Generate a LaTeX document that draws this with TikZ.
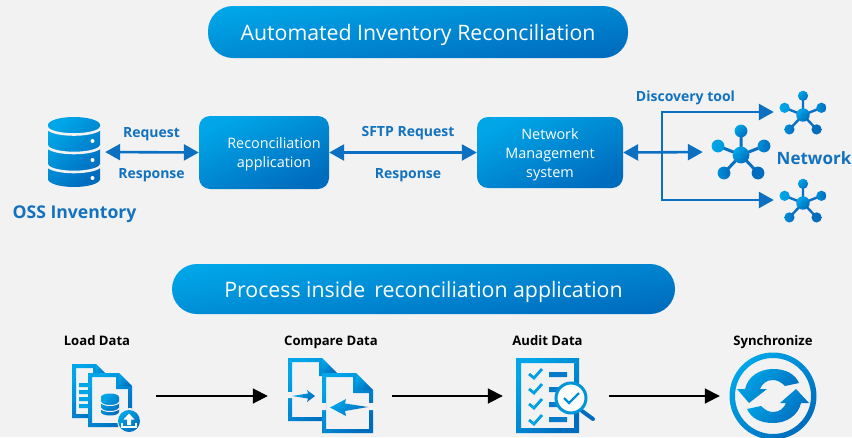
\documentclass[tikz,border=0pt]{standalone}
\usepackage{fontspec}
\setmainfont{Open Sans}
\usetikzlibrary{arrows.meta}
\definecolor{bgc}{HTML}{F2F2F2}
\definecolor{ca}{HTML}{00A6E8}
\definecolor{cb}{HTML}{006CBE}
\definecolor{lnc}{HTML}{0B6FC2}
\definecolor{txc}{HTML}{1272BF}
\tikzset{
  gradd/.style={left color=ca,right color=cb,shading angle=45,draw=none},
  gradv/.style={top color=ca,bottom color=cb,shading angle=#1,draw=none},
  banner/.style={gradv=8,rounded corners=25pt,minimum height=#1,text=white,font=\fontsize{21.3}{24}\selectfont,inner sep=0pt,text height=18pt,text depth=2pt},
  appbox/.style={gradv=25,rounded corners=11pt,inner sep=0pt},
  box text/.style={text=white,align=center,font=\fontsize{14.4}{19}\selectfont,inner sep=0pt},
  blue label/.style={text=txc,font=\bfseries\fontsize{14}{15}\selectfont,inner sep=0pt,anchor=base},
  big label/.style={text=txc,font=\bfseries\fontsize{17.6}{18}\selectfont,inner sep=0pt,anchor=base},
  step label/.style={text=black,font=\bfseries\fontsize{13.1}{14}\selectfont,inner sep=0pt,anchor=base},
  slot/.style={inner sep=0pt,minimum height=50pt},
  link/.style={draw=lnc,line width=2.6pt,-{Triangle[length=15pt,width=16pt]}},
  biglink/.style={draw=lnc,line width=2.6pt,{Triangle[length=15pt,width=16pt]}-{Triangle[length=15pt,width=16pt]}},
  flow/.style={draw=black,line width=1.8pt,-{Triangle[length=15pt,width=15pt]}},
}
\newcommand{\netic}[3]{% cx cy scale
  \begin{scope}[shift={(#1,#2)},scale=#3]
    \draw[line width=3pt*#3,draw=lnc] (0,0)--(0,-24) (0,0)--(-23,-9) (0,0)--(23,-9) (0,0)--(-17,18) (0,0)--(17,18);
    \shade[gradd] (0,-24) circle (6.4);
    \shade[left color=ca,right color=ca!80!cb] (-23,-9) circle (6.4);
    \shade[left color=ca!60!cb,right color=cb] (23,-9) circle (6.4);
    \shade[left color=ca!60!cb,right color=cb] (-17,18) circle (6.4);
    \shade[left color=cb,right color=cb] (17,18) circle (6.4);
    \shade[gradd] (0,0) circle (8.4);
  \end{scope}}
\newcommand{\docpath}[5]{% x0 y0 x1 y1 fold
  (#1,#2) -- ({#3-#5},#2) -- (#3,{#2+#5}) -- (#3,#4) -- (#1,#4) -- cycle}
\newcommand{\docic}[5]{% outlined document with a fold
  \fill[bgc] \docpath{#1}{#2}{#3}{#4}{#5};
  \shade[gradd,even odd rule] \docpath{#1}{#2}{#3}{#4}{#5}
     ({#1+4},{#2+4}) -- ({#3-#5-3},{#2+4}) -- ({#3-#5-3},{#2+#5+3}) -- ({#3-4},{#2+#5+3}) -- ({#3-4},{#4-4}) -- ({#1+4},{#4-4}) -- cycle;
  \shade[gradd] ({#3-#5},{#2}) -- (#3,{#2+#5}) -- ({#3-#5},{#2+#5}) -- cycle;}
\begin{document}
\begin{tikzpicture}[x=1pt,y=-1pt]
\path[use as bounding box,fill=bgc] (0,0) rectangle (852,437);

% banners
\node[banner=52pt,minimum width=420pt] (title) at (418,32) {Automated Inventory Reconciliation};
\node[banner=50pt,minimum width=503pt] (proc) at (423.5,289) {Process inside\, reconciliation application};

% boxes
\node[appbox,minimum width=130pt,minimum height=73pt] (recon) at (264,152.5) {};
\node[box text] (recontext) at (274,154.5) {Reconciliation\\application};
\node[appbox,minimum width=146pt,minimum height=71pt] (nms) at (550,152.5) {};
\node[box text] (nmstext) at (550,154.5) {Network\\Management\\system};

% database icon
\shade[gradd] (48,125) -- (48,179) arc[start angle=180,end angle=0,x radius=26,y radius=8] -- (100,125) arc[start angle=0,end angle=-180,x radius=26,y radius=8] -- cycle;
\draw[bgc,line width=2.6pt] (47,127) arc[start angle=180,end angle=0,x radius=27,y radius=7.5]
  (47,145.5) arc[start angle=180,end angle=0,x radius=27,y radius=7.5]
  (47,164.5) arc[start angle=180,end angle=0,x radius=27,y radius=7.5];
\fill[white] (92.5,141) circle (2) (92.5,160) circle (2) (92.5,178) circle (2);
\node[slot,minimum width=52pt,minimum height=70pt] (db) at (74,152) {};

% network icons
\netic{741}{155}{1}
\netic{803}{115}{0.8}
\netic{803}{203}{0.8}
\node[slot,minimum width=58pt] (netmid) at (741,152) {};
\node[slot,minimum width=10pt,minimum height=10pt] (nettop) at (779,112) {};
\node[slot,minimum width=10pt,minimum height=10pt] (netbot) at (779,200) {};
\coordinate (branch) at (662,152);

% connectors
\draw[biglink,shorten <=5pt] (db.east) -- (recon.west);
\draw[biglink] (recon.east) -- (nms.west);
\draw[biglink,shorten >=9pt] (nms.east) -- (netmid.west);
\draw[link] (branch) -- (branch |- nettop) -- (nettop.west);
\draw[link] (branch) -- (branch |- netbot) -- (netbot.west);

% labels
\node[blue label] (req) at (151.5,137) {Request};
\node[blue label] (resp) at (151.5,178) {Response};
\node[big label] (oss) at (74.5,218) {OSS Inventory};
\node[blue label] (sftp) at (408,136) {SFTP Request};
\node[blue label] (resp2) at (408,178) {Response};
\node[blue label] (disc) at (685.5,101) {Discovery tool};
\node[text=txc,font=\bfseries\fontsize{17}{18}\selectfont,inner sep=0pt,anchor=base east] (net) at (851.5,164) {Network};

\node[step label] (l1) at (97,345) {Load Data};
\node[step label] (l2) at (331,345) {Compare Data};
\node[step label] (l3) at (547.5,345) {Audit Data};
\node[step label] (l4) at (773,345) {Synchronize};

% load icon
\docic{72}{364}{107}{418}{11}
\fill[ca] (79,383) rectangle (88,387) (79,390) rectangle (88,394) (79,397) rectangle (88,401) (79,404) rectangle (88,408);
\docic{88}{373}{132}{427}{13}
\shade[gradd] (101,397) -- (101,412) arc[start angle=180,end angle=0,x radius=9,y radius=3.5] -- (119,397) arc[start angle=0,end angle=-180,x radius=9,y radius=3.5] -- cycle;
\draw[bgc,line width=1pt] (101,402) arc[start angle=180,end angle=0,x radius=9,y radius=3.5] (101,408) arc[start angle=180,end angle=0,x radius=9,y radius=3.5];
\fill[bgc] (130,421) circle (13);
\shade[gradd] (129,421) circle (11);
\fill[white] (129,413.5) -- (134.5,419.5) -- (131,419.5) -- (131,425) -- (127,425) -- (127,419.5) -- (123.5,419.5) -- cycle;
\draw[white,line width=1.1pt] (122,423) -- (122,427) -- (136,427) -- (136,423);
\node[slot,minimum width=70pt] (load) at (106,396) {};

% compare icon
\docic{288}{358}{337}{421}{15}
\docic{322}{373}{373}{433}{17}
\fill[bgc] (286,392) rectangle (293,398) (319,403) rectangle (326,410) (366,403) rectangle (376,410);
\shade[gradd] (292,396) -- (308,393.5) -- (307,390) -- (315,396) -- (307,402) -- (308,398.5) -- cycle;
\shade[gradd] (368,407) -- (345,403.5) -- (346,399) -- (330,407.5) -- (346,416) -- (345,411) -- cycle;
\node[slot,minimum width=85pt] (compare) at (330.5,396) {};

% audit icon
\shade[gradd,even odd rule] (516,358) rectangle (579,433) (521,363) rectangle (574,428);
\foreach \yy in {374,389,404,420}{
  \draw[ca!90!cb,line width=2.8pt] (529,\yy) -- (534,{\yy+4}) -- (542,{\yy-5});
}
\fill[lnc!80!ca] (549,372) rectangle (567,377) (549,387) rectangle (560,392) (549,402) rectangle (560,407) (549,417) rectangle (567,422);
\draw[cb,line width=4pt,line cap=round] (582,411) -- (593,419);
\fill[white] (571,398) circle (15);
\draw[ca!70!cb,line width=3pt] (571,398) circle (15);
\draw[ca!60!cb,line width=2.2pt] (564,398) -- (569,403) -- (579,393);
\node[slot,minimum width=78pt] (audit) at (555,396) {};

% sync icon
\shade[gradd,even odd rule] (773,396) circle (43.5) (773,396) circle (38);
\shade[gradd] (745,389) .. controls (748,376) and (760,369) .. (773,369) .. controls (786,369) and (795,374) .. (799,383) -- (785,386) .. controls (781,382) and (777,380) .. (773,380) .. controls (766,380) and (762,384) .. (760,389) -- (767,389) -- (749,403) -- (737,389) -- cycle;
\shade[gradd] (801,403) .. controls (798,416) and (786,423) .. (773,423) .. controls (760,423) and (751,418) .. (747,409) -- (761,406) .. controls (765,410) and (769,412) .. (773,412) .. controls (780,412) and (784,408) .. (786,403) -- (780,403) -- (796,389) -- (809,403) -- cycle;
\node[slot,minimum width=86pt] (sync) at (773,396) {};

% flow arrows
\draw[flow,shorten <=15pt,shorten >=20pt] (load.east) -- (compare.west);
\draw[flow,shorten <=19pt,shorten >=13pt] (compare.east) -- (audit.west);
\draw[flow,shorten <=15pt,shorten >=10pt] (audit.east) -- (sync.west);
\end{tikzpicture}
\end{document}
